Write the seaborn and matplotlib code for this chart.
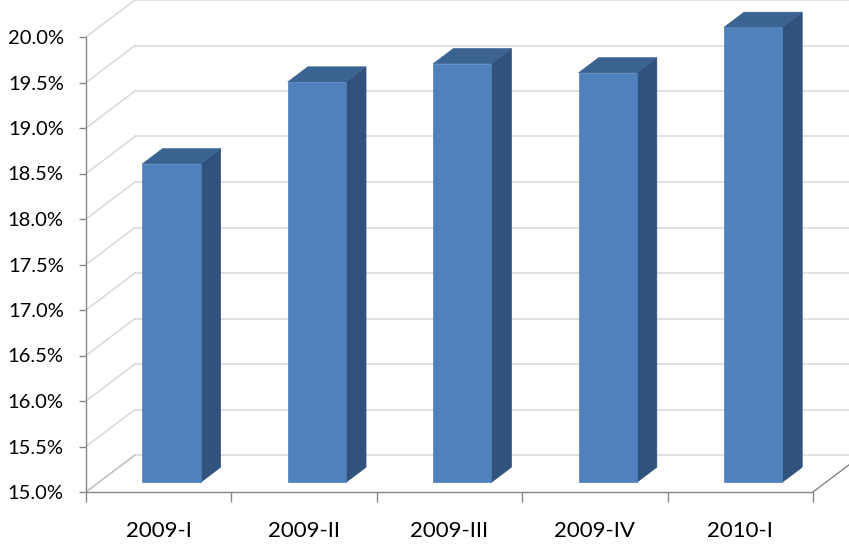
import numpy as np
import matplotlib
matplotlib.use("Agg")
import matplotlib.pyplot as plt
import seaborn as sns
from matplotlib.patches import Polygon
from matplotlib.ticker import FuncFormatter, FixedLocator

# data
quarters = ["2009-I", "2009-II", "2009-III", "2009-IV", "2010-I"]
rates = [18.5, 19.4, 19.6, 19.5, 20.0]
y_ticks = [15.0, 15.5, 16.0, 16.5, 17.0, 17.5, 18.0, 18.5, 19.0, 19.5, 20.0]

FRONT = "#4F81BD"
TOP = "#3B6392"
SIDE = "#31527C"
GRID = "#D9D9D9"
AXIS = "#868686"

# depth of the 3d box in pixels (right, up)
DEPTH = np.array([49.0, 37.0])
BAR_FRONT = 0.26   # fraction of depth where bar front face sits
BAR_BACK = 0.67

sns.set_style("white")
plt.rcParams["font.family"] = ["Lato", "DejaVu Sans"]

fig = plt.figure(figsize=(8.49, 5.44), dpi=100)
ax = fig.add_axes([86 / 849, 52 / 544, 727 / 849, 455 / 544])

sns.barplot(x=quarters, y=rates, width=0.4, color=FRONT, saturation=1,
            ax=ax, zorder=3)
ax.set_xlim(-0.5, 4.5)
ax.set_ylim(15, 20)


def shifted(x, y, frac):
    """data point -> data point pushed back by frac of the depth"""
    px = ax.transData.transform((x, y)) + DEPTH * frac
    return ax.transData.inverted().transform(px)


# back wall gridlines, left wall and floor diagonals
for t in y_ticks:
    a = shifted(-0.5, t, 1.0)
    b = shifted(4.5, t, 1.0)
    ax.plot([a[0], b[0] + 1], [a[1], b[1]], color=GRID, lw=1.1,
            clip_on=False, zorder=1)
    c = shifted(-0.5, t, 0.0)
    ax.plot([c[0], a[0]], [c[1], a[1]], color=GRID, lw=1.1,
            clip_on=False, zorder=1)
a = shifted(4.5, 15, 0.0)
b = shifted(4.5, 15, 1.0)
ax.plot([a[0], b[0]], [a[1], b[1]], color=AXIS, lw=1.0, clip_on=False, zorder=2)
a = shifted(-0.5, 15, 0.0)
b = shifted(-0.5, 15, 1.0)
ax.plot([a[0], b[0]], [a[1], b[1]], color="#BFBFBF", lw=1.0, clip_on=False, zorder=2)

# bars: rebase on 15% and extrude
for p in list(ax.patches):
    x0 = p.get_x()
    w = p.get_width()
    top = p.get_height()
    x1 = x0 + w
    p.remove()
    f = [shifted(x0, 15, BAR_FRONT), shifted(x1, 15, BAR_FRONT),
         shifted(x1, top, BAR_FRONT), shifted(x0, top, BAR_FRONT)]
    tp = [shifted(x0, top, BAR_FRONT), shifted(x1, top, BAR_FRONT),
          shifted(x1, top, BAR_BACK), shifted(x0, top, BAR_BACK)]
    sd = [shifted(x1, 15, BAR_FRONT), shifted(x1, 15, BAR_BACK),
          shifted(x1, top, BAR_BACK), shifted(x1, top, BAR_FRONT)]
    for pts, col in ((sd, SIDE), (tp, TOP), (f, FRONT)):
        ax.add_patch(Polygon(pts, closed=True, facecolor=col, edgecolor=col,
                             lw=0.5, clip_on=False, zorder=4))

# axes styling
for s in ["top", "right"]:
    ax.spines[s].set_visible(False)
for s in ["left", "bottom"]:
    ax.spines[s].set_color(AXIS)
    ax.spines[s].set_linewidth(1.0)

ax.yaxis.set_major_locator(FixedLocator(y_ticks))
ax.yaxis.set_major_formatter(FuncFormatter(lambda v, _: f"{v:.1f}%"))
ax.tick_params(axis="y", length=5, width=1, color=AXIS, pad=11,
               labelsize=14.5, labelcolor="black", left=True)
ax.set_xticks(range(len(quarters)))
ax.set_xticklabels(quarters)
ax.tick_params(axis="x", length=0, pad=21, labelsize=16, labelcolor="black")
ax.set_xticks(np.arange(-0.5, len(quarters)), minor=True)
ax.tick_params(axis="x", which="minor", length=7, width=1, color=AXIS,
               bottom=True)
ax.set_xlabel("")
ax.set_ylabel("")
ax.grid(False)

fig.savefig("out.png", dpi=100)
